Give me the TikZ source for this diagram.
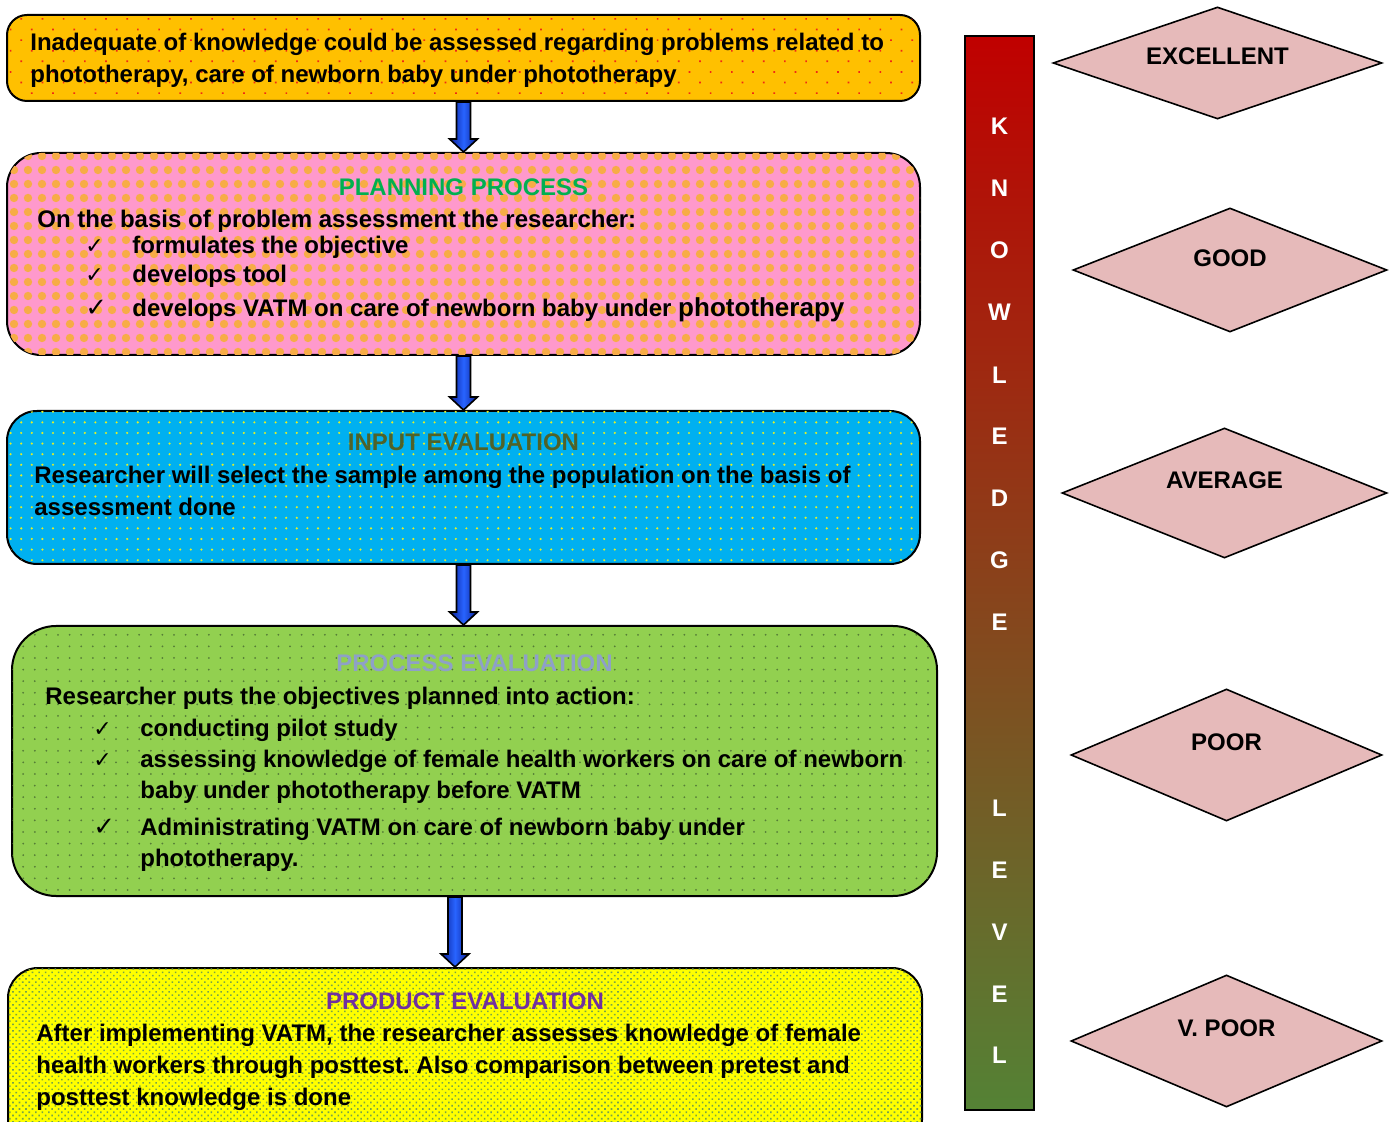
\documentclass[tikz,border=0pt]{standalone}
\usepackage{fontspec}
\setmainfont{Liberation Sans}
\newfontfamily\tickfont{DejaVu Sans}
\usetikzlibrary{shapes.geometric,positioning,fit,calc,patterns.meta}
\frenchspacing

\definecolor{probfill}{RGB}{255,192,0}
\definecolor{probspot}{RGB}{240,40,20}
\definecolor{planfill}{RGB}{255,153,204}
\definecolor{planspot}{RGB}{247,172,70}
\definecolor{inputfill}{RGB}{0,176,240}
\definecolor{inputspot}{RGB}{225,240,40}
\definecolor{procfill}{RGB}{146,208,80}
\definecolor{procspot}{RGB}{85,125,55}
\definecolor{prodfill}{RGB}{255,255,0}
\definecolor{prodspot}{RGB}{120,165,70}
\definecolor{plantitle}{RGB}{0,176,80}
\definecolor{inputtitle}{RGB}{79,98,40}
\definecolor{proctitle}{RGB}{142,160,200}
\definecolor{prodtitle}{RGB}{112,48,160}
\definecolor{gradefill}{RGB}{230,186,186}
\definecolor{bartop}{RGB}{192,0,0}
\definecolor{barmid}{RGB}{150,92,40}
\definecolor{barbottom}{RGB}{84,130,53}
\definecolor{arrowdark}{RGB}{10,30,150}
\definecolor{arrowlight}{RGB}{40,100,255}

\newcommand{\tick}[2][\fontsize{11}{12}\selectfont]{\hspace*{24pt}\makebox[23.5pt][l]{{#1\mdseries\tickfont ✓}}#2}

\begin{document}
\begin{tikzpicture}[
    x=0.5pt, y=-0.5pt,
    box/.style={draw=black, line width=1pt, inner sep=0pt},
    title/.style={font=\bfseries\fontsize{12}{16}\selectfont, anchor=base, inner sep=0pt},
    body/.style={font=\bfseries\fontsize{12}{16}\selectfont, align=left, anchor=base west, inner sep=0pt},
    grade/.style={diamond, draw=black, line width=0.8pt, fill=gradefill, inner sep=0pt},
    grade label/.style={font=\bfseries\fontsize{12}{14}\selectfont, inner sep=0pt},
    letter/.style={font=\bfseries\fontsize{12}{14}\selectfont, text=white, inner sep=0pt},
    fatarrow/.style={draw=black, line width=0.8pt, left color=arrowdark, right color=arrowdark, middle color=arrowlight,
        to path={($(\tikztostart)+(-7,0)$) -- ($(\tikztotarget)+(-7,-13)$) -- ($(\tikztotarget)+(-14,-13)$)
            -- (\tikztotarget) -- ($(\tikztotarget)+(14,-13)$) -- ($(\tikztotarget)+(7,-13)$)
            -- ($(\tikztostart)+(7,0)$) -- cycle}}
]
\path[use as bounding box, fill=white] (0,0) rectangle (1393,1122);

% Problema
\node[box, rounded corners=10pt, fill=probfill,
      postaction={pattern={Dots[angle=45, distance=7.5pt, radius=0.6pt]}, pattern color=probspot},
      fit={(7,15) (920,101)}] (problem) {};
\node[body] (problemtext) at (30,83) {Inadequate of knowledge could be assessed regarding problems related to\\
    phototherapy, care of newborn baby under phototherapy};

% Planificacion
\node[box, rounded corners=17pt, fill=planfill,
      postaction={pattern={Dots[distance=7pt, radius=2.1pt]}, pattern color=planspot},
      fit={(7,153) (920,355)}] (plan) {};
\node[title, text=plantitle] (plantitle) at (463.5,196) {PLANNING PROCESS};
\node[body] (plantext) at (37,317) {On the basis of problem assessment the researcher:\\[-3pt]
    \tick{formulates the objective}\\[-1.5pt]
    \tick{develops tool}\\[1pt]
    \tick[\fontsize{13}{14}\selectfont]{develops VATM on care of newborn baby under {\fontsize{13}{16}\selectfont phototherapy}}};

% Entrada
\node[box, rounded corners=15pt, fill=inputfill,
      postaction={pattern={Dots[distance=5.3pt, radius=0.6pt]}, pattern color=inputspot},
      fit={(7,411) (920,564)}] (input) {};
\node[title, text=inputtitle] (inputtitle) at (463.5,451) {INPUT EVALUATION};
\node[body] (inputtext) at (34,516) {Researcher will select the sample among the population on the basis of\\
    assessment done};

% Proceso
\node[box, rounded corners=22pt, fill=procfill,
      postaction={pattern={Dots[distance=5.8pt, radius=0.5pt]}, pattern color=procspot},
      fit={(12,626) (937,896)}] (process) {};
\node[title, text=proctitle] (proctitle) at (474.5,672) {PROCESS EVALUATION};
\node[body] (proctext) at (45,866) {Researcher puts the objectives planned into action:\\
    \tick{conducting pilot study}\\[-0.5pt]
    \tick{assessing knowledge of female health workers on care of newborn}\\[-0.5pt]
    \hspace*{47.5pt}baby under phototherapy before VATM\\[2.5pt]
    \tick[\fontsize{13}{14}\selectfont]{Administrating VATM on care of newborn baby under}\\[-0.5pt]
    \hspace*{47.5pt}phototherapy.};

% Producto
\node[box, rounded corners=15pt, fill=prodfill,
      postaction={pattern={Dots[angle=45, distance=2.3pt, radius=0.55pt]}, pattern color=prodspot},
      fit={(8,968) (922,1150)}] (product) {};
\node[title, text=prodtitle] (prodtitle) at (465,1009) {PRODUCT EVALUATION};
\node[body] (prodtext) at (36,1105) {After implementing VATM, the researcher assesses knowledge of female\\
    health workers through posttest. Also comparison between pretest and\\
    posttest knowledge is done};

% Flechas
\coordinate (procentry) at (input.south |- process.north);
\coordinate (procexit) at ($(process.south)+(-19.5,0)$);
\coordinate (prodentry) at (procexit |- product.north);
\draw[fatarrow] (problem.south) to (plan.north);
\draw[fatarrow] (plan.south) to (input.north);
\draw[fatarrow] (input.south) to (procentry);
\draw[fatarrow] (procexit) to (prodentry);

% Barra de conocimiento
\node[draw=black, line width=1pt, inner sep=0pt, top color=bartop, middle color=barmid, bottom color=barbottom,
      fit={(965,36) (1034,1110)}] (bar) {};
\foreach \ch/\ypos [count=\i] in {K/126, N/188, O/250, W/312, L/375, E/436, D/498, G/560, E/622,
                                  L/808, E/870, V/932, E/994, L/1055}
    \node[letter] (letter\i) at (999.5,\ypos) {\ch};

% Niveles
\node[grade, minimum width=164.5pt, minimum height=56pt,
      label={[grade label, yshift=3.5pt]center:EXCELLENT}] (excellent) at (1217.5,63) {};
\node[grade, minimum width=157pt, minimum height=62pt,
      label={[grade label, yshift=6pt]center:GOOD}] (good) at (1230,270) {};
\node[grade, minimum width=162.5pt, minimum height=65pt,
      label={[grade label, yshift=6.5pt]center:AVERAGE}] (average) at (1224.5,493) {};
\node[grade, minimum width=155.5pt, minimum height=66pt,
      label={[grade label, yshift=6.5pt]center:POOR}] (poor) at (1226.5,755) {};
\node[grade, minimum width=155.5pt, minimum height=66pt,
      label={[grade label, yshift=6.5pt]center:V. POOR}] (verypoor) at (1226.5,1041) {};

\end{tikzpicture}
\end{document}
